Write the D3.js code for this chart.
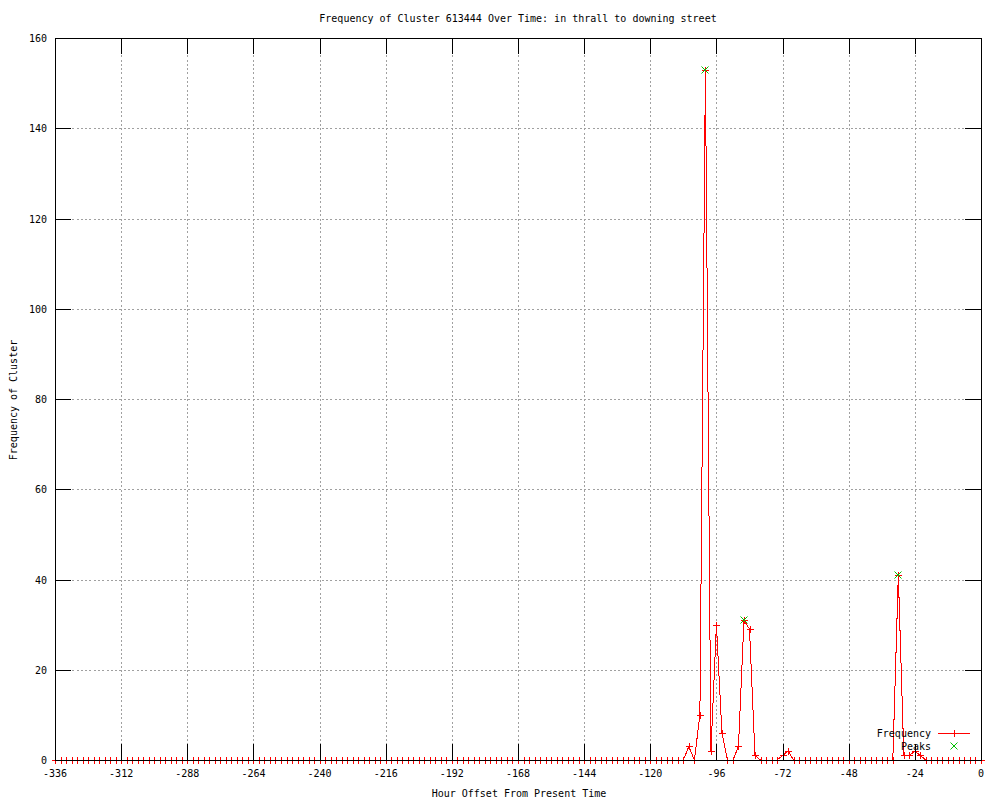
<!DOCTYPE html>
<html>
<head>
<meta charset="utf-8">
<script src="https://cdn.jsdelivr.net/npm/d3@7"></script>
<style>
    body { margin: 0; background: #fff; }
    text { font-family: "DejaVu Sans Mono", monospace; font-size: 10px; fill: #000; }
</style>
</head>
<body>
<div id="chart"></div>
<script>
var titleText = 'Frequency of Cluster 613444 Over Time: in thrall to downing street',
    xLabel = 'Hour Offset From Present Time',
    yLabel = 'Frequency of Cluster',
    xTicks = [-336, -312, -288, -264, -240, -216, -192, -168, -144, -120, -96, -72, -48, -24, 0],
    yTicks = [0, 20, 40, 60, 80, 100, 120, 140, 160],
    hours = d3.range(-336, 1, 2),
    // one row per 24 hours, sampled every 2 hours
    frequency = [
        0, 0, 0, 0, 0, 0, 0, 0, 0, 0, 0, 0,
        0, 0, 0, 0, 0, 0, 0, 0, 0, 0, 0, 0,
        0, 0, 0, 0, 0, 0, 0, 0, 0, 0, 0, 0,
        0, 0, 0, 0, 0, 0, 0, 0, 0, 0, 0, 0,
        0, 0, 0, 0, 0, 0, 0, 0, 0, 0, 0, 0,
        0, 0, 0, 0, 0, 0, 0, 0, 0, 0, 0, 0,
        0, 0, 0, 0, 0, 0, 0, 0, 0, 0, 0, 0,
        0, 0, 0, 0, 0, 0, 0, 0, 0, 0, 0, 0,
        0, 0, 0, 0, 0, 0, 0, 0, 0, 0, 0, 0,
        0, 0, 0, 0, 0, 0, 0, 3, 0, 10, 153, 2,
        30, 6, 0, 0, 3, 31, 29, 1, 0, 0, 0, 0,
        1, 2, 0, 0, 0, 0, 0, 0, 0, 0, 0, 0,
        0, 0, 0, 0, 0, 0, 0, 0, 0, 41, 1, 1,
        2, 1, 0, 0, 0, 0, 0, 0, 0, 0, 0, 0,
        0],
    peakHours = [-100, -86, -30],
    peakValues = [153, 31, 41];

init();

function init() {
    var width = 1000, height = 800,
        left = 55, right = 981, top = 38, bottom = 760,
        ticLen = 16;

    var svg = d3.select('#chart').append('svg')
        .attr('width', width)
        .attr('height', height);

    var x = d3.scaleLinear().domain([-336, 0]).range([left, right]);
    var y = d3.scaleLinear().domain([0, 160]).range([bottom, top]);

    var plus = 'M-3.5,0H3.5M0,-3.5V3.5',
        cross = 'M-3.5,-3.5L3.5,3.5M-3.5,3.5L3.5,-3.5';

    // Grid
    var grid = svg.append('g')
        .attr('stroke', '#a0a0a0')
        .attr('stroke-dasharray', '2,2.3')
        .attr('shape-rendering', 'crispEdges');

    grid.selectAll('.gx')
        .data(xTicks.slice(1, -1))
        .enter().append('line')
        .attr('x1', d => Math.round(x(d)) + 0.5)
        .attr('x2', d => Math.round(x(d)) + 0.5)
        .attr('y1', top)
        .attr('y2', bottom);

    grid.selectAll('.gy')
        .data(yTicks.slice(1, -1))
        .enter().append('line')
        .attr('x1', left)
        .attr('x2', right)
        .attr('y1', d => Math.round(y(d)) + 0.5)
        .attr('y2', d => Math.round(y(d)) + 0.5);

    // Key background (opaque)
    svg.append('rect')
        .attr('x', 870).attr('y', 726)
        .attr('width', 106).attr('height', 26)
        .attr('fill', '#fff');

    // Frequency series
    var points = hours.map((h, i) => ({ h: h, v: frequency[i] }));

    var line = d3.line()
        .x(d => x(d.h))
        .y(d => y(d.v));

    svg.append('path')
        .datum(points)
        .attr('d', line)
        .attr('fill', 'none')
        .attr('stroke', '#ff0000')
        .attr('stroke-width', 1)
        .attr('shape-rendering', 'crispEdges');

    svg.append('g')
        .selectAll('path')
        .data(points)
        .enter().append('path')
        .attr('transform', d => 'translate(' + Math.round(x(d.h)) + ',' + Math.round(y(d.v)) + ')')
        .attr('d', plus)
        .attr('stroke', '#ff0000')
        .attr('fill', 'none')
        .attr('shape-rendering', 'crispEdges');

    // Peaks
    svg.append('g')
        .selectAll('path')
        .data(peakHours)
        .enter().append('path')
        .attr('transform', (d, i) => 'translate(' + Math.round(x(d)) + ',' + Math.round(y(peakValues[i])) + ')')
        .attr('d', cross)
        .attr('stroke', '#00c000')
        .attr('fill', 'none');

    // Border and tics (front)
    var frame = svg.append('g')
        .attr('stroke', '#000')
        .attr('fill', 'none')
        .attr('shape-rendering', 'crispEdges');

    frame.append('rect')
        .attr('x', left + 0.5).attr('y', top + 0.5)
        .attr('width', right - left).attr('height', bottom - top);

    xTicks.forEach(t => {
        var px = Math.round(x(t)) + 0.5;
        frame.append('line').attr('x1', px).attr('x2', px).attr('y1', bottom).attr('y2', bottom - ticLen);
        frame.append('line').attr('x1', px).attr('x2', px).attr('y1', top).attr('y2', top + ticLen);
    });

    yTicks.forEach(t => {
        var py = Math.round(y(t)) + 0.5;
        frame.append('line').attr('x1', left).attr('x2', left + ticLen).attr('y1', py).attr('y2', py);
        frame.append('line').attr('x1', right).attr('x2', right - ticLen).attr('y1', py).attr('y2', py);
    });

    // Tick labels
    svg.append('g')
        .selectAll('text')
        .data(xTicks)
        .enter().append('text')
        .attr('x', d => x(d))
        .attr('y', 777)
        .attr('text-anchor', 'middle')
        .text(d => d);

    svg.append('g')
        .selectAll('text')
        .data(yTicks)
        .enter().append('text')
        .attr('x', 47)
        .attr('y', d => y(d) + 4)
        .attr('text-anchor', 'end')
        .text(d => d);

    // Titles
    svg.append('text')
        .attr('x', 518)
        .attr('y', 22)
        .attr('text-anchor', 'middle')
        .text(titleText);

    svg.append('text')
        .attr('x', 519)
        .attr('y', 797)
        .attr('text-anchor', 'middle')
        .text(xLabel);

    svg.append('text')
        .attr('transform', 'translate(17, 400) rotate(-90)')
        .attr('text-anchor', 'middle')
        .text(yLabel);

    // Key
    var key = svg.append('g');

    key.append('text')
        .attr('x', 931).attr('y', 737)
        .attr('text-anchor', 'end')
        .text('Frequency');

    key.append('line')
        .attr('x1', 938).attr('x2', 970)
        .attr('y1', 733.5).attr('y2', 733.5)
        .attr('stroke', '#ff0000')
        .attr('shape-rendering', 'crispEdges');

    key.append('path')
        .attr('transform', 'translate(954, 733)')
        .attr('d', plus)
        .attr('stroke', '#ff0000')
        .attr('shape-rendering', 'crispEdges');

    key.append('text')
        .attr('x', 931).attr('y', 750)
        .attr('text-anchor', 'end')
        .text('Peaks');

    key.append('path')
        .attr('transform', 'translate(954, 746)')
        .attr('d', cross)
        .attr('stroke', '#00c000')
        .attr('fill', 'none');
}
</script>
</body>
</html>
